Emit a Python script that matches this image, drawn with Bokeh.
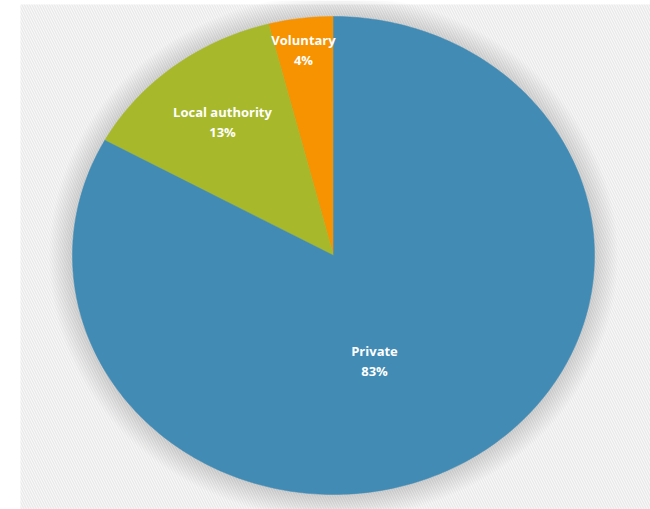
import numpy as np
from bokeh.plotting import figure
from bokeh.models import Range1d, ColumnDataSource
from bokeh.core.properties import value
from bokeh.embed import file_html
from bokeh.resources import INLINE

# ---- data ----
categories = ["Voluntary", "Local authority", "Private"]
shares = [4, 13, 83]
colors = ["#f79200", "#a7b82a", "#418bb4"]

W, H = 650, 509
p = figure(width=W, height=H, x_range=Range1d(0, W), y_range=Range1d(H, 0),
           output_backend="svg", toolbar_location=None, min_border=0)
p.axis.visible = False
p.grid.visible = False
p.outline_line_color = None
p.background_fill_color = "white"
p.border_fill_color = "white"

# hatched chart-area background
p.quad(left=[20], right=[W], top=[4], bottom=[H], fill_color="#f9f9f9",
       line_color=None, hatch_pattern="left_diagonal_line",
       hatch_color="#e9e9e9", hatch_scale=5, hatch_weight=1.3)

cx, cy, rx, ry = 333, 255, 261, 239

# soft shadow around the pie
for i in range(12):
    grow = 1 + i * 2.0
    p.ellipse(x=[cx], y=[cy + 1], width=[2 * rx + grow * 2], height=[2 * ry + grow * 2],
              fill_color="#000000", fill_alpha=0.012, line_color=None)

# wedges, counterclockwise from 12 o'clock
total = float(sum(shares))
start = np.pi / 2
xs, ys = [], []
for s in shares:
    end = start + 2 * np.pi * s / total
    t = np.linspace(start, end, max(int(400 * s / total), 8))
    px = np.concatenate([[cx], cx + rx * np.cos(t), [cx]])
    py = np.concatenate([[cy], cy - ry * np.sin(t), [cy]])
    xs.append(list(px)); ys.append(list(py))
    start = end

src = ColumnDataSource(dict(xs=xs, ys=ys, color=colors))
p.patches("xs", "ys", source=src, fill_color="color", line_color="color", line_width=0.5)

# labels
label_x = [303, 222, 374]
label_y = [39, 111, 350]
p.text(x=label_x, y=label_y, text=categories, text_color="white",
       text_font=value("Open Sans"), text_font_style="bold", text_font_size="13px",
       text_align="center", text_baseline="middle")
p.text(x=label_x, y=[yy + 20 for yy in label_y], text=[f"{s}%" for s in shares],
       text_color="white", text_font=value("Open Sans"), text_font_style="bold",
       text_font_size="13px", text_align="center", text_baseline="middle")

open("out.html", "w").write(file_html(p, INLINE))
